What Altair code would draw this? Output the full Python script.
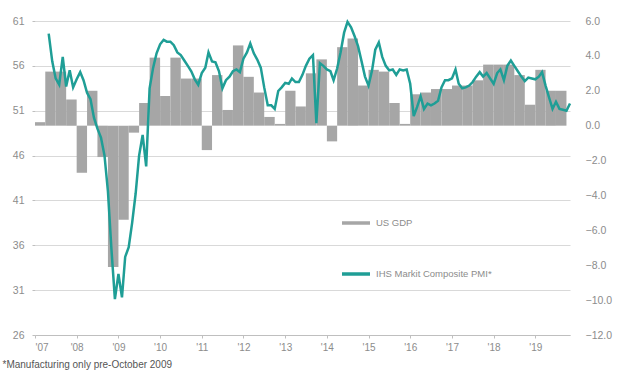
import altair as alt
import pandas as pd

# US real GDP growth, quarterly (annualised %, right axis), Q1 2007 - Q3 2019
quarter_starts = pd.date_range("2007-01-01", "2019-07-01", freq="QS")
gdp_growth = [
    0.2, 3.1, 3.1, 1.5,
    -2.7, 2.0, -1.8, -8.1,
    -5.4, -0.4, 1.3, 3.9,
    1.7, 3.9, 2.7, 2.7,
    -1.4, 2.9, 0.9, 4.6,
    2.8, 1.9, 0.5, 0.1,
    2.0, 1.1, 3.0, 3.8,
    -0.9, 4.5, 5.0, 2.3,
    3.2, 3.1, 1.3, 0.1,
    1.8, 1.9, 2.1, 2.1,
    2.3, 2.3, 2.6, 3.5,
    3.5, 3.5, 2.9, 1.2,
    3.2, 2.0, 2.0,
]

# IHS Markit composite PMI, monthly (left axis), May 2007 - Nov 2019
pmi_months = pd.date_range("2007-05-01", "2019-11-01", freq="MS")
pmi_values = [
    59.6, 56.5, 54.6, 53.9, 57.0, 53.7, 55.5, 53.6,
    54.5, 55.3, 54.4, 53.0, 52.3, 50.2, 49.0, 48.0, 46.0, 42.0, 35.5, 30.0,
    32.8, 30.2, 34.7, 35.8, 38.5, 41.8, 46.0, 48.3, 44.8, 53.5, 55.8, 57.4,
    58.4, 58.9, 58.7, 58.7, 58.3, 57.5, 57.2, 56.6, 56.0, 55.4, 54.5, 53.9,
    55.2, 55.8, 57.5, 56.5, 56.4, 55.4, 53.5, 54.4, 54.8, 55.4, 55.6, 55.3,
    56.8, 57.5, 58.5, 57.4, 56.7, 55.8, 53.6, 51.6, 51.6, 51.2, 53.2, 53.6,
    54.1, 54.0, 54.6, 54.2, 54.2, 55.0, 56.0, 56.8, 57.2, 49.6, 56.3, 56.0,
    55.6, 55.4, 54.4, 55.7, 57.5, 59.7, 60.9, 60.3, 59.3, 58.2, 56.5, 54.8,
    53.8, 55.5, 57.8, 58.6, 57.0, 56.0, 55.5, 55.6, 55.0, 55.6, 55.5, 55.6,
    54.0, 50.4, 51.4, 52.6, 51.2, 51.8, 51.6, 51.8, 52.1, 53.6, 54.4, 54.4,
    54.6, 55.6, 54.0, 53.5, 53.6, 53.8, 54.2, 54.8, 55.3, 54.8, 55.2, 54.6,
    54.0, 55.2, 55.6, 54.4, 56.0, 56.6, 56.0, 55.4, 54.8, 54.3, 54.7, 54.6,
    54.5, 54.8, 55.3, 53.8, 52.5, 51.2, 52.0, 51.2, 51.1, 51.0, 51.8,
]

series_names = ["US GDP", "IHS Markit Composite PMI*"]
series_colors = ["#a6a6a6", "#1f9e96"]

left_ticks = [26, 31, 36, 41, 46, 51, 56, 61]
right_ticks = [-12, -10, -8, -6, -4, -2, 0, 2, 4, 6]
year_ticks = [alt.DateTime(year=y, month=1, date=1) for y in range(2007, 2020)]

gdp_df = pd.DataFrame({
    "start": quarter_starts,
    "end": quarter_starts + pd.DateOffset(months=3),
    "gdp": gdp_growth,
})
pmi_df = pd.DataFrame({
    "month": pmi_months,
    "pmi": pmi_values,
    "series": series_names[1],
})

FONT = "Liberation Sans"
LABEL_GREY = "#8c8c8c"

x_scale = alt.Scale(domain=[alt.DateTime(year=2007, month=1, date=1),
                            alt.DateTime(year=2019, month=11, date=1)])

x_axis = alt.Axis(
    values=year_ticks, format="'%y", labelFlush=True,
    labelColor=LABEL_GREY, labelFontSize=10, labelFont=FONT, labelPadding=4,
    domainColor="#bfbfbf", tickColor="#bfbfbf", tickSize=3, grid=False,
    title="*Manufacturing only pre-October 2009",
    titleX=-33, titleY=32, titleAlign="left", titleBaseline="alphabetic",
    titleFontSize=10, titleFontWeight="normal", titleColor="#555555", titleFont=FONT,
)

# quarterly bars span each quarter and rise/fall from the zero line
bars = alt.Chart(gdp_df).mark_bar(color=series_colors[0]).encode(
    x=alt.X("start:T", scale=x_scale, axis=x_axis),
    x2="end:T",
    y=alt.Y("gdp:Q", scale=alt.Scale(domain=[-12, 6], nice=False, zero=False),
            axis=alt.Axis(orient="right", values=right_ticks, format=".1f",
                          grid=False, ticks=False, domain=False, labelPadding=15,
                          labelColor=LABEL_GREY, labelFontSize=10.5, labelFont=FONT,
                          title=None)),
    y2=alt.datum(0),
)

line = alt.Chart(pmi_df).mark_line(strokeWidth=2.5).encode(
    x=alt.X("month:T", scale=x_scale, axis=x_axis),
    y=alt.Y("pmi:Q", scale=alt.Scale(domain=[26, 61], nice=False, zero=False),
            axis=alt.Axis(orient="left", values=left_ticks, grid=True,
                          gridColor="#d9d9d9", gridWidth=1, domain=False,
                          tickColor="#bfbfbf", tickSize=3, labelPadding=8,
                          labelColor=LABEL_GREY, labelFontSize=10.5, labelFont=FONT,
                          title=None)),
    color=alt.Color(
        "series:N",
        scale=alt.Scale(domain=series_names, range=series_colors),
        legend=alt.Legend(
            title=None, orient="none", legendX=305, legendY=186,
            symbolType="stroke", symbolSize=784, symbolStrokeWidth=3.5,
            rowPadding=28, labelFont=FONT, labelFontSize=9.5,
            labelColor="#8c8c8c", labelOffset=4,
        ),
    ),
)

chart = (
    alt.layer(bars, line)
    .resolve_scale(y="independent")
    .properties(
        width=535, height=314,
        autosize=alt.AutoSizeParams(type="none"),
        padding={"left": 35, "top": 21, "right": 47, "bottom": 36},
        background="white",
    )
    .configure_view(stroke=None)
)

chart.save("out.html", embed_options={"renderer": "svg", "actions": False})
